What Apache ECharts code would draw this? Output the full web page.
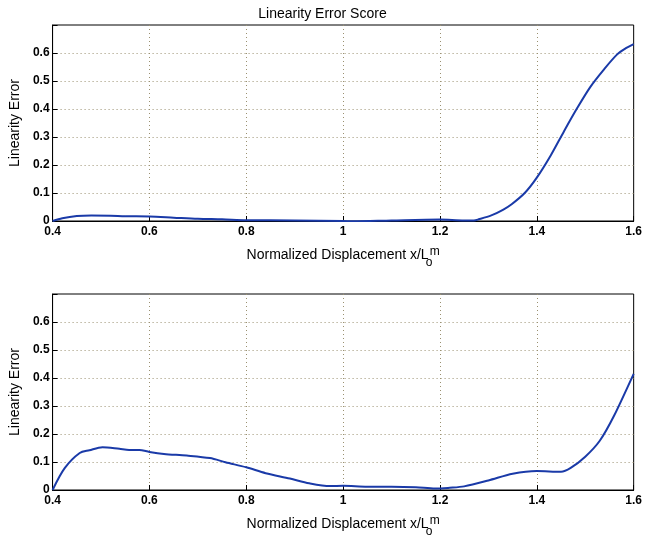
<!DOCTYPE html>
<html>
<head>
<meta charset="utf-8">
<script src="https://cdn.jsdelivr.net/npm/echarts@6/dist/echarts.min.js"></script>
<style>html,body{margin:0;padding:0;background:#fff;}#c{width:645px;height:540px;}</style>
</head>
<body>
<div id="c"></div>
<script>
// Top panel: linearity error score
const topX = [0.40,0.42,0.45,0.48,0.52,0.55,0.60,0.65,0.70,0.75,0.80,0.90,1.00,1.02,1.10,1.20,1.25,1.27,1.28,1.306,1.33,1.348,1.375,1.40,1.429,1.456,1.484,1.511,1.538,1.566,1.585,1.60];
const topY = [0.000,0.010,0.018,0.020,0.019,0.017,0.016,0.012,0.008,0.006,0.003,0.002,0.000,-0.001,0.002,0.005,0.002,0.002,0.006,0.020,0.040,0.060,0.100,0.155,0.235,0.320,0.405,0.480,0.540,0.595,0.618,0.632];
// Bottom panel
const botX = [0.40,0.425,0.456,0.476,0.503,0.538,0.558,0.579,0.60,0.63,0.677,0.725,0.757,0.80,0.84,0.89,0.93,0.973,1.00,1.05,1.10,1.15,1.19,1.22,1.25,1.30,1.35,1.40,1.45,1.47,1.50,1.53,1.56,1.60];
const botY = [0.000,0.078,0.132,0.142,0.153,0.147,0.143,0.143,0.136,0.129,0.123,0.114,0.099,0.081,0.060,0.041,0.024,0.014,0.015,0.012,0.012,0.010,0.005,0.008,0.013,0.034,0.058,0.068,0.065,0.079,0.119,0.176,0.267,0.415];
const xTicks = {min:0.4, max:1.6, interval:0.2};
const yTicks = {min:0, max:0.7, interval:0.1};
const titleText = 'Linearity Error Score';
const xName = 'Normalized Displacement x/L';
const yName = 'Linearity Error';

const FONT = '"Liberation Sans", Arial, sans-serif';
const gridColor = '#9a9070';
function pts(xs, ys){ return xs.map((x,i)=>[x, ys[i]]); }
function xAxisCfg(idx){
  return {
    gridIndex: idx, type:'value', min:xTicks.min, max:xTicks.max, interval:xTicks.interval,
    name: '{n|' + xName + '}{o|o}{m|m}', nameLocation:'middle', nameGap:20,
    nameTextStyle:{ rich:{
      n:{fontFamily:FONT, fontSize:14, color:'#000', lineHeight:28, verticalAlign:'middle'},
      o:{fontFamily:FONT, fontSize:12, color:'#000', width:1, verticalAlign:'bottom', lineHeight:28},
      m:{fontFamily:FONT, fontSize:12, color:'#000', verticalAlign:'top', lineHeight:14, padding:[5,0,0,0]}
    }},
    axisLine:{show:true, lineStyle:{color:'#000', width:1}},
    axisTick:{show:true, inside:true, length:5, lineStyle:{color:'#000'}},
    axisLabel:{fontFamily:FONT, fontSize:12, fontWeight:'bold', color:'#000', margin:5,
      formatter:v=>String(Math.round(v*10)/10)},
    splitLine:{show:true, showMinLine:false, showMaxLine:false, lineStyle:{color:gridColor, type:[1,3], width:1}}
  };
}
function yAxisCfg(idx){
  return {
    gridIndex: idx, type:'value', min:yTicks.min, max:yTicks.max, interval:yTicks.interval,
    name: yName, nameLocation:'middle', nameGap:30,
    nameTextStyle:{fontFamily:FONT, fontSize:14, color:'#000'},
    axisLine:{show:true, lineStyle:{color:'#000', width:1}},
    axisTick:{show:true, inside:true, length:5, lineStyle:{color:'#000'}},
    axisLabel:{fontFamily:FONT, fontSize:12, fontWeight:'bold', color:'#000', margin:3,
      formatter:v=>{ const r=Math.round(v*10)/10; return r>=0.7?'':String(r);}},
    splitLine:{show:true, showMinLine:false, showMaxLine:false, lineStyle:{color:gridColor, type:[1,3], width:1}}
  };
}
const chart = echarts.init(document.getElementById('c'), null, {renderer:'canvas'});
chart.setOption({
  backgroundColor:'#fff',
  animation:false,
  title:{ text:titleText, left:'center', top:2, textStyle:{fontFamily:FONT, fontSize:14, fontWeight:'normal', color:'#000'} },
  grid:[
    {left:52, right:8, top:25, height:196, show:true, borderColor:'#000', borderWidth:1, backgroundColor:'transparent'},
    {left:52, right:8, top:294, height:196, show:true, borderColor:'#000', borderWidth:1, backgroundColor:'transparent'}
  ],
  xAxis:[xAxisCfg(0), xAxisCfg(1)],
  yAxis:[yAxisCfg(0), yAxisCfg(1)],
  series:[
    {type:'line', xAxisIndex:0, yAxisIndex:0, data:pts(topX, topY), smooth:0.3, showSymbol:false, lineStyle:{color:'#1a3aa8', width:2}},
    {type:'line', xAxisIndex:1, yAxisIndex:1, data:pts(botX, botY), smooth:0.3, showSymbol:false, lineStyle:{color:'#1a3aa8', width:2}}
  ]
});
</script>
</body>
</html>
